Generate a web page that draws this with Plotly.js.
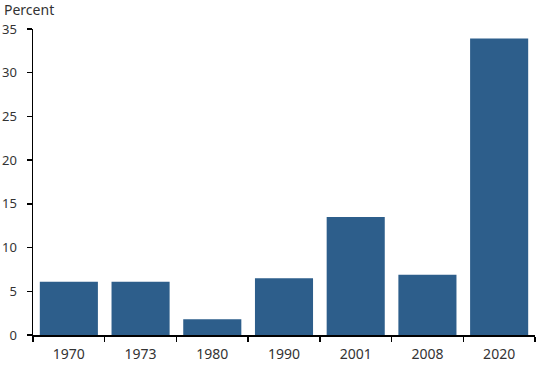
<!DOCTYPE html>
<html>
<head>
<meta charset="utf-8">
<script src="https://cdn.plot.ly/plotly-3.0.1.min.js"></script>
<style>html,body{margin:0;padding:0;background:#fff;}#chart{width:550px;height:365px;}</style>
</head>
<body>
<div id="chart"></div>
<script>
const years = ["1970", "1973", "1980", "1990", "2001", "2008", "2020"];
const values = [6.1, 6.1, 1.8, 6.5, 13.5, 6.9, 33.9];
const yTicks = [0, 5, 10, 15, 20, 25, 30, 35];
const barColor = "#2d5e8b";
const font = {family: "Noto Sans, Open Sans, sans-serif", size: 14, color: "#333"};

Plotly.newPlot("chart", [{
  type: "bar",
  x: years,
  y: values,
  marker: {color: barColor},
  hoverinfo: "skip"
}], {
  width: 550, height: 365,
  margin: {l: 33, r: 15, t: 29, b: 30},
  paper_bgcolor: "#fff", plot_bgcolor: "#fff",
  bargap: 0.19,
  showlegend: false,
  font: font,
  xaxis: {
    type: "category",
    showline: true, linecolor: "#000", linewidth: 1.5,
    ticks: "outside", tickson: "boundaries", ticklen: 5, tickcolor: "#000", tickwidth: 1.5,
    ticklabelstandoff: 6,
    showgrid: false, zeroline: false,
    tickfont: font
  },
  yaxis: {
    range: [0, 35],
    tickvals: yTicks,
    showline: true, linecolor: "#000", linewidth: 1.5,
    ticks: "outside", ticklen: 5, tickcolor: "#000", tickwidth: 1.5,
    ticklabelstandoff: 7,
    showgrid: false, zeroline: false,
    tickfont: {family: font.family, size: 13, color: "#333"}
  },
  annotations: [{
    text: "Percent", xref: "paper", yref: "paper", x: -0.062, y: 1.0,
    xanchor: "left", yanchor: "bottom", yshift: 8, showarrow: false,
    font: {family: font.family, size: 14, color: "#333"}
  }]
}, {displayModeBar: false, staticPlot: true});
</script>
</body>
</html>
